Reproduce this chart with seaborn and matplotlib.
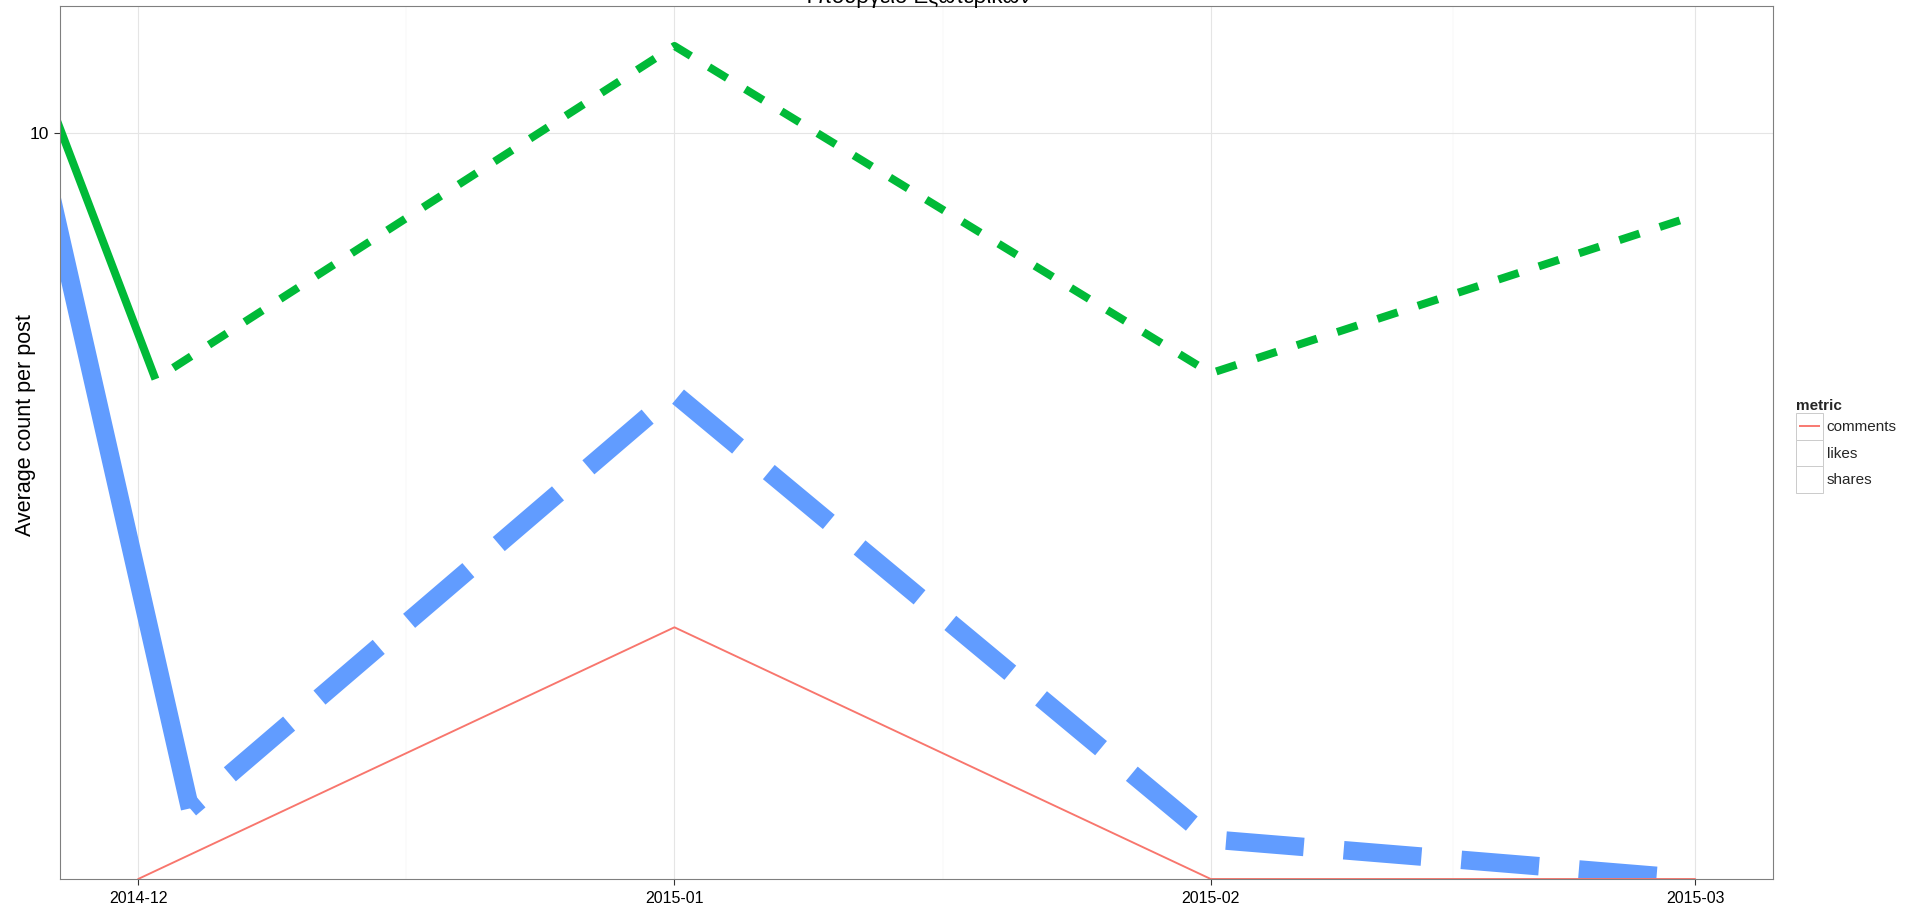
import numpy as np
import pandas as pd
import matplotlib
matplotlib.use("Agg")
import matplotlib.pyplot as plt
import matplotlib.dates as mdates
from matplotlib.lines import Line2D
from matplotlib.patches import Rectangle
from matplotlib.legend_handler import HandlerBase
from matplotlib.ticker import FixedLocator, NullLocator, FuncFormatter
import seaborn as sns

# ---- data: average count per post, by month ----
months = ["2014-12-01", "2015-01-01", "2015-02-01", "2015-03-01"]
comments = [0.0, 3.0, 0.0, 0.0]

likes_dates = ["2014-12-02", "2015-01-01", "2015-02-01", "2015-03-01"]
likes = [5.49, 12.36, 5.57, 8.18]

shares_dates = ["2014-12-04", "2015-01-01", "2015-02-01", "2015-03-01"]
shares = [1.93, 5.30, 1.79, 0.0]

# run-in from the previous period (solid)
likes_prev_dates = ["2014-11-25", "2014-12-02"]
likes_prev = [11.91, 5.49]
shares_prev_dates = ["2014-11-25", "2014-12-04"]
shares_prev = [10.27, 1.93]

metric_labels = ["comments", "likes", "shares"]
metric_colors = ["#F8766D", "#00BA38", "#619CFF"]
title_text = "Υπουργείο Εξωτερικών"
y_label = "Average count per post"
legend_title = "metric"

# ---- styling ----
DPI = 100
PT = 72.0 / DPI          # points per pixel
W, H = 1921, 914

sns.set_theme(style="white")
plt.rcParams["font.family"] = ["Liberation Sans", "DejaVu Sans"]
plt.rcParams["lines.scale_dashes"] = False

fig = plt.figure(figsize=(W / DPI, H / DPI), dpi=DPI)
fig.patch.set_facecolor("white")
left, right, top, bottom = 60.3, 1773.0, 6.3, 879.0
ax = fig.add_axes([left / W, 1 - bottom / H, (right - left) / W, (bottom - top) / H])
ax.set_facecolor("white")

# ---- scales (log10 y, 5% expansion like ggplot) ----
all_vals = np.array(comments + likes + shares + likes_prev + shares_prev, dtype=float)
pos = all_vals[all_vals > 0]
lo, hi = np.log10(pos.min()), np.log10(pos.max())
pad = 0.05 * (hi - lo)
ylo, yhi = 10 ** (lo - pad), 10 ** (hi + pad)
ax.set_yscale("log")
ax.set_ylim(ylo, yhi)

month_dt = pd.to_datetime(months)
x0, x1 = month_dt.min(), month_dt.max()
xpad = (x1 - x0) * 0.05
ax.set_xlim(x0 - xpad, x1 + xpad)


def squish(vals):
    # zero counts sit on the lower panel edge (log of 0 is -inf)
    v = np.asarray(vals, dtype=float)
    return np.where(v > 0, v, ylo)


def frame(dates, vals):
    return pd.DataFrame({"date": pd.to_datetime(dates), "value": squish(vals)})


c_com, c_lik, c_sha = metric_colors

# shares (blue)
sns.lineplot(data=frame(shares_prev_dates, shares_prev), x="date", y="value", ax=ax,
             color=c_sha, linewidth=18.5 * PT, solid_capstyle="butt", legend=False, zorder=2.0)
sns.lineplot(data=frame(shares_dates, shares), x="date", y="value", ax=ax,
             color=c_sha, linewidth=18.5 * PT,
             linestyle=(65.6 * PT, (78 * PT, 40 * PT)), legend=False, zorder=2.0)

# likes (green)
sns.lineplot(data=frame(likes_prev_dates, likes_prev), x="date", y="value", ax=ax,
             color=c_lik, linewidth=8 * PT, solid_capstyle="butt", legend=False, zorder=2.1)
sns.lineplot(data=frame(likes_dates, likes), x="date", y="value", ax=ax,
             color=c_lik, linewidth=8 * PT,
             linestyle=(21.2 * PT, (21.2 * PT, 21.2 * PT)), legend=False, zorder=2.1)

# comments (red)
sns.lineplot(data=frame(months, comments), x="date", y="value", ax=ax,
             color=c_com, linewidth=1.9 * PT, legend=False, zorder=2.2)

# ---- axes decoration ----
major = mdates.date2num(month_dt.to_pydatetime())
minor = (major[:-1] + major[1:]) / 2.0
ax.xaxis.set_major_locator(FixedLocator(major))
ax.xaxis.set_minor_locator(FixedLocator(minor))
ax.xaxis.set_major_formatter(mdates.DateFormatter("%Y-%m"))

ax.yaxis.set_major_locator(FixedLocator([10]))
ax.yaxis.set_minor_locator(NullLocator())
ax.yaxis.set_major_formatter(FuncFormatter(lambda v, p: f"{v:g}"))

ax.grid(True, which="major", color="#E5E5E5", linewidth=1.1 * PT)
ax.grid(True, which="minor", axis="x", color="#FAFAFA", linewidth=1.5 * PT)
ax.set_axisbelow(True)

for s in ax.spines.values():
    s.set_visible(True)
    s.set_color("#7F7F7F")
    s.set_linewidth(1.1 * PT)

ax.tick_params(axis="both", which="major", length=6 * PT, width=1.1 * PT, color="#333333",
               labelsize=11.5, labelcolor="black", pad=4)
ax.tick_params(axis="y", which="major", labelsize=12.5)
ax.tick_params(axis="both", which="minor", length=0)
ax.tick_params(axis="x", bottom=True)
ax.tick_params(axis="y", left=True)

ax.set_xlabel("")
ax.set_ylabel(y_label, fontsize=15.5, color="black")
ax.yaxis.set_label_coords((36 - left) / (right - left), 0.52)

ax.set_title(title_text, fontsize=16, color="black", pad=2.6)


# ---- legend with boxed keys ----
class KeyBox(HandlerBase):
    def create_artists(self, legend, orig_handle, xdescent, ydescent, width, height,
                       fontsize, trans):
        box = Rectangle((-xdescent, -ydescent), width, height, facecolor="white",
                        edgecolor="#CCCCCC", linewidth=1.0 * PT, transform=trans)
        inset = 3 * PT
        yc = -ydescent + height / 2.0
        line = Line2D([-xdescent + inset, -xdescent + width - inset], [yc, yc],
                      color=orig_handle.get_color(), linewidth=orig_handle.get_linewidth(),
                      solid_capstyle="butt", transform=trans)
        return [box, line]


handles = [
    Line2D([], [], color=c_com, linewidth=1.9 * PT),
    Line2D([], [], color="none", linewidth=1.9 * PT),
    Line2D([], [], color="none", linewidth=1.9 * PT),
]
fs = 11
key_pt = 26.7 * PT
# matplotlib subtracts a descent of 0.35*fs*(handleheight-0.7) from the key height
hh = (key_pt / fs - 0.245) / 0.65
leg = ax.legend(handles, metric_labels, title=legend_title,
                handler_map={Line2D: KeyBox()},
                loc="center left", bbox_to_anchor=(1796 / W, 1 - 446 / H),
                bbox_transform=fig.transFigure, frameon=False, fontsize=fs,
                title_fontproperties={"weight": "bold", "size": fs},
                borderpad=0, borderaxespad=0, labelspacing=0,
                handlelength=key_pt / fs, handleheight=hh,
                handletextpad=4 * PT / fs, alignment="left")

fig.savefig("out.png", dpi=DPI, facecolor="white")
